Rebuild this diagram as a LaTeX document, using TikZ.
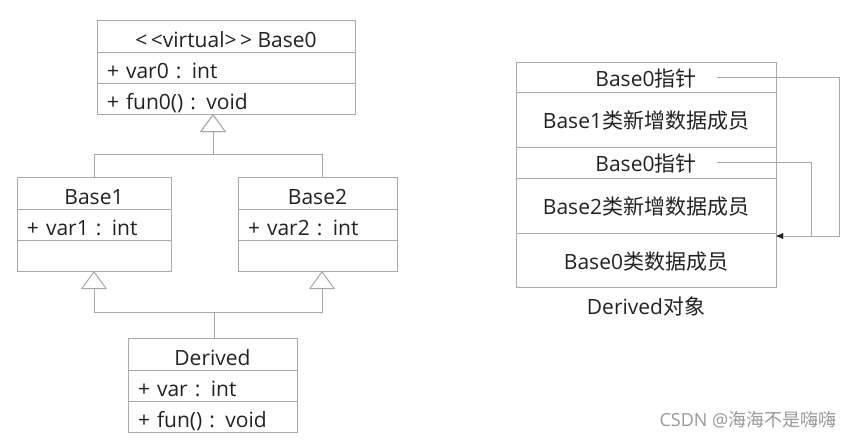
\documentclass[tikz,border=0pt]{standalone}
\usepackage{fontspec}
\usetikzlibrary{arrows.meta,positioning}
\setmainfont{Open Sans}
\newfontfamily\cjk{Noto Sans CJK SC}
\definecolor{linec}{HTML}{A8A8A8}
\definecolor{txtc}{HTML}{222222}

\tikzset{
  box/.style={draw=linec, line width=1pt, inner sep=0pt, outer sep=0pt, text=txtc,
    font=\fontsize{21}{25}\selectfont, text height=22pt, text depth=0pt},
  head/.style={box, minimum height=32pt, minimum width=#1},
  row/.style={box, minimum height=31pt, inner xsep=10pt, text width=#1, align=left},
  mem/.style={box, minimum width=260pt, minimum height=#1, text height=18pt},
  inh/.style={draw=linec, line width=1pt, -{Triangle[open,length=18pt,width=26pt,fill=white]}},
  ptr/.style={draw=linec, line width=1pt, -{Latex[length=7pt,width=6pt,color=txtc]}},
  objlabel/.style={text=txtc, font=\fontsize{21}{25}\selectfont},
}

\begin{document}
\begin{tikzpicture}[x=1pt,y=-1pt]
\fill[white] (0,0) rectangle (861,445);
\useasboundingbox (0,0) rectangle (861,445);

% class diagram
\node[head=258pt] (b0h) at (226,36) {<\,<virtual>\,> Base0};
\node[row=238pt, below=0pt of b0h] (b0v) {+ var0 : int};
\node[row=238pt, below=0pt of b0v] (b0f) {+ fun0() : void};

\node[head=154pt] (b1h) at (94,193) {Base1};
\node[row=134pt, below=0pt of b1h] (b1v) {+ var1 : int};
\node[row=134pt, below=0pt of b1v] (b1e) {};

\node[head=159pt] (b2h) at (317.5,193) {Base2};
\node[row=139pt, below=0pt of b2h] (b2v) {+ var2 : int};
\node[row=139pt, below=0pt of b2v] (b2e) {};

\node[head=169pt] (dh) at (212.5,354) {Derived};
\node[row=149pt, below=0pt of dh] (dv) {+ var : int};
\node[row=149pt, below=0pt of dv] (df) {+ fun() : void};

\draw[inh] (b1h.north) -- ++(0,-23) -| ([xshift=-13pt]b0f.south);
\draw[inh] ([xshift=4.5pt]b2h.north) -- ++(0,-23) -| ([xshift=-13pt]b0f.south);
\draw[inh] ([xshift=1.5pt]dh.north) -- ++(0,-26) -| (b1e.south);
\draw[inh] ([xshift=1.5pt]dh.north) -- ++(0,-26) -| ([xshift=4.5pt]b2e.south);

% object layout
\node[mem=30pt] (m1) at (646,77) {Base0{\cjk 指针}};
\node[mem=55pt, below=0pt of m1] (m2) {Base1{\cjk 类新增数据成员}};
\node[mem=31pt, below=0pt of m2] (m3) {Base0{\cjk 指针}};
\node[mem=55pt, below=0pt of m3] (m4) {Base2{\cjk 类新增数据成员}};
\node[mem=54pt, below=0pt of m4] (m5) {Base0{\cjk 类数据成员}};
\node[objlabel, below=6pt of m5] (obj) {Derived{\cjk 对象}};

\draw[ptr] ([xshift=71pt]m1.center) -- ++(122,0) |- ([yshift=-3pt]m5.north east);
\draw[ptr] ([xshift=71pt]m3.center) -- ++(94,0) |- ([yshift=-3pt]m5.north east);

\node[text=gray!80, font=\fontsize{18}{20}\selectfont] (wm) at (748,420) {CSDN @{\cjk 海海不是嗨嗨}};
\end{tikzpicture}
\end{document}
